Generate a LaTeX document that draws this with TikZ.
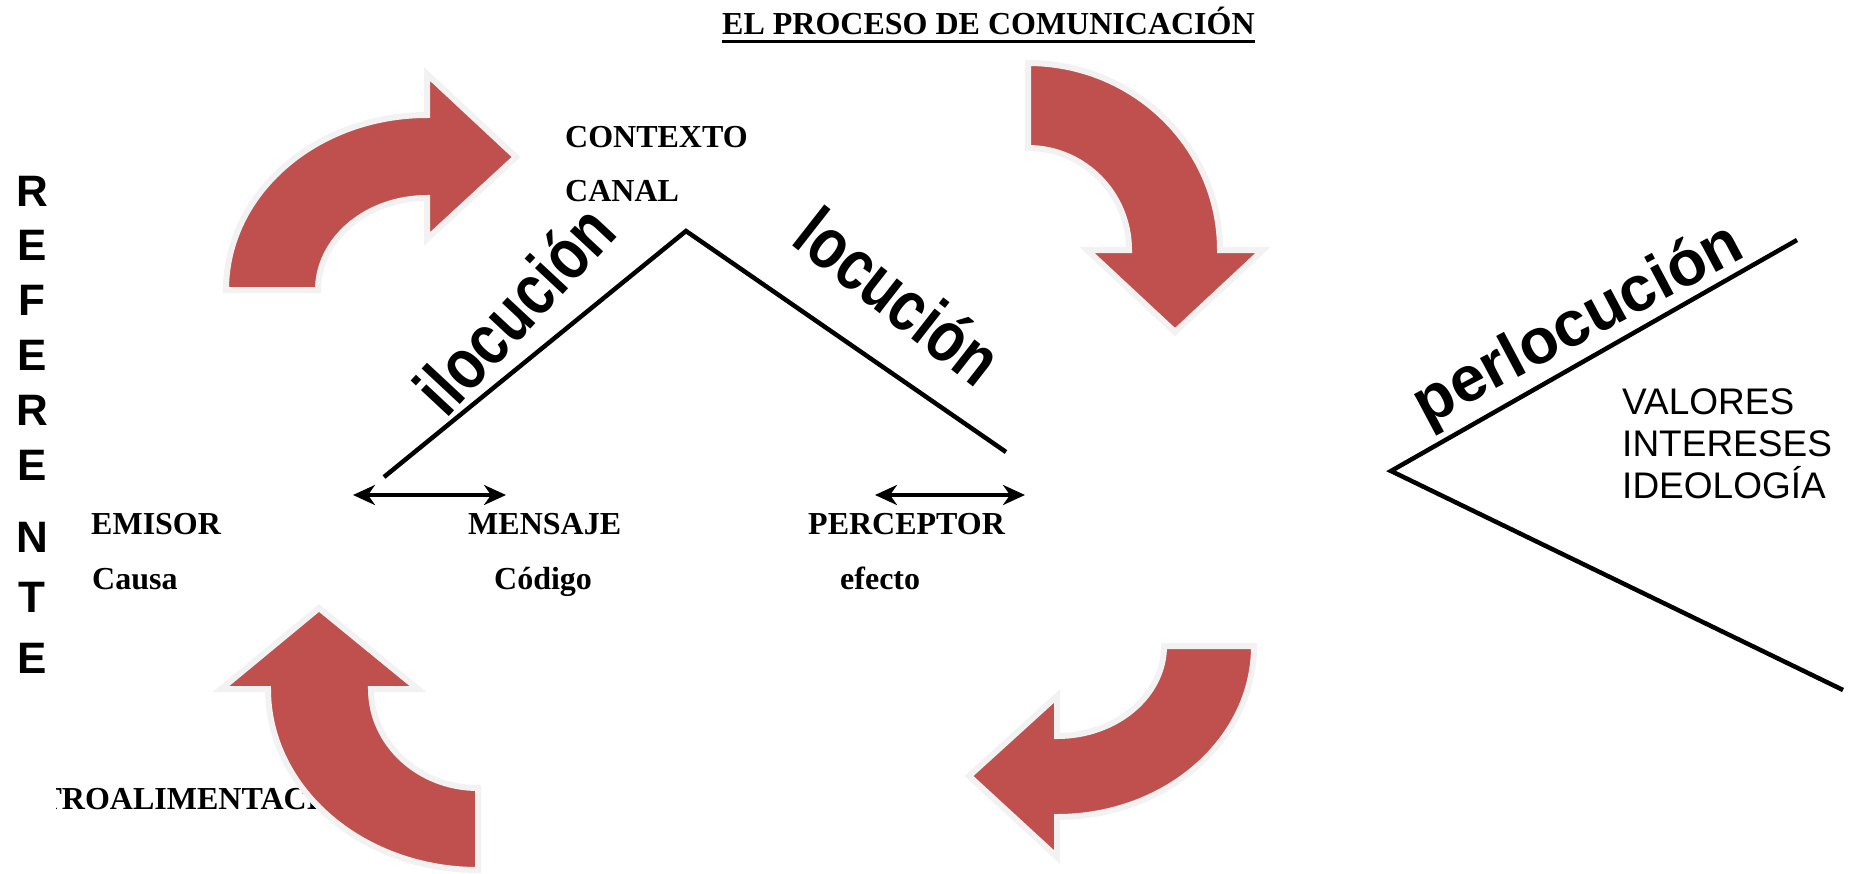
\documentclass[tikz,border=0pt]{standalone}
\usepackage{fontspec}
\setmainfont{Liberation Serif}
\newfontfamily\arialfont{Liberation Sans}
\usetikzlibrary{arrows.meta}
\definecolor{arrowred}{HTML}{C0504D}
\definecolor{arrowrim}{HTML}{F2F2F2}
\tikzstyle{wordlabel}=[font=\bfseries\fontsize{32}{38}\selectfont, inner sep=0pt, anchor=base west]
\tikzstyle{valuelabel}=[font=\arialfont\fontsize{37}{42}\selectfont, inner sep=0pt, anchor=base west]
\tikzstyle{refletter}=[font=\arialfont\bfseries\fontsize{44}{50}\selectfont, inner sep=0pt]
\tikzstyle{speechact}=[font=\arialfont\bfseries\fontsize{72}{80}\selectfont, inner sep=0pt]
\tikzstyle{curvedarrow}=[fill=arrowred, draw=arrowrim, line width=6pt, line join=miter]
\tikzstyle{branch}=[line width=4.5pt]
\tikzstyle{link}=[line width=3.5pt, {Stealth[length=22pt,width=20pt,inset=7pt]}-{Stealth[length=22pt,width=20pt,inset=7pt]}]

\begin{document}
\begin{tikzpicture}[x=1pt, y=-1pt]
  \useasboundingbox (0,0) rectangle (1855,873);
  % title
  \node[wordlabel] (title) at (722,34) {EL PROCESO DE COMUNICACIÓN};
  \draw[line width=3pt] ([yshift=-7pt]title.base west) -- ([yshift=-7pt]title.base east);
  % referente
  \foreach \ch/\yy [count=\i] in {R/191,E/245,F/300,E/355,R/410,E/465,N/537,T/597,E/658}
    \node[refletter] (ref\i) at (32,\yy) {\ch};
  % elements
  \node[wordlabel] (contexto) at (565,147) {CONTEXTO};
  \node[wordlabel] (canal) at (565,201) {CANAL};
  \node[wordlabel] (emisor) at (91,534) {EMISOR};
  \node[wordlabel] (causa) at (92,589) {Causa};
  \node[wordlabel] (mensaje) at (468,534) {MENSAJE};
  \node[wordlabel] (codigo) at (494,589) {Código};
  \node[wordlabel] (perceptor) at (808,534) {PERCEPTOR};
  \node[wordlabel] (efecto) at (840,589) {efecto};
  \begin{scope}
    \clip (56,700) rectangle (700,873);
    \node[wordlabel] (retro) at (-4,809) {RETROALIMENTACIÓN};
  \end{scope}
  \node[valuelabel] (valores) at (1622,414) {VALORES};
  \node[valuelabel] (intereses) at (1622,456) {INTERESES};
  \node[valuelabel] (ideologia) at (1622,498) {IDEOLOGÍA};
  % branches
  \coordinate (ilo-low) at (384,477);
  \coordinate (peak) at (686,231);
  \coordinate (lo-low) at (1006,452);
  \coordinate (perlo-top) at (1797,240);
  \coordinate (perlo-vertex) at (1391,471);
  \coordinate (perlo-low) at (1843,690);
  \draw[branch] (ilo-low) -- (peak) -- (lo-low);
  \draw[branch] (perlo-top) -- (perlo-vertex) -- (perlo-low);
  \node[speechact, rotate=47, xscale=0.8] (ilocucion) at (514,309) {ilocución};
  \node[speechact, rotate=-38, xscale=0.8] (locucion) at (899,296) {locución};
  \node[speechact, rotate=28, font=\arialfont\bfseries\fontsize{64}{70}\selectfont] (perlocucion) at (1579,326) {perlocución};
  % double arrows
  \coordinate (msg-left) at (353,495);
  \coordinate (msg-right) at (506,495);
  \coordinate (perc-left) at (875,495);
  \coordinate (perc-right) at (1025,495);
  \draw[link] (msg-left) -- (msg-right);
  \draw[link] (perc-left) -- (perc-right);
  % curved arrows
  \draw[curvedarrow] (226,290) arc[start angle=180, end angle=270, x radius=201, y radius=175]
    -- (427,74) -- (516,157) -- (427,239) -- (427,198)
    arc[start angle=270, end angle=180, x radius=109, y radius=92] -- cycle;
  \draw[curvedarrow] (1028,63) arc[start angle=270, end angle=360, x radius=192, y radius=187]
    -- (1263,250) -- (1175,332) -- (1087,250) -- (1129,250)
    arc[start angle=0, end angle=-90, x radius=101, y radius=102] -- cycle;
  \draw[curvedarrow] (478,870) arc[start angle=90, end angle=180, x radius=210, y radius=181]
    -- (221,689) -- (319,608) -- (418,689) -- (371,689)
    arc[start angle=180, end angle=90, x radius=107, y radius=99] -- cycle;
  \draw[curvedarrow] (1254,646) arc[start angle=0, end angle=90, x radius=197, y radius=171]
    -- (1057,857) -- (969,776) -- (1057,696) -- (1057,736)
    arc[start angle=90, end angle=0, x radius=107, y radius=90] -- cycle;
\end{tikzpicture}
\end{document}
